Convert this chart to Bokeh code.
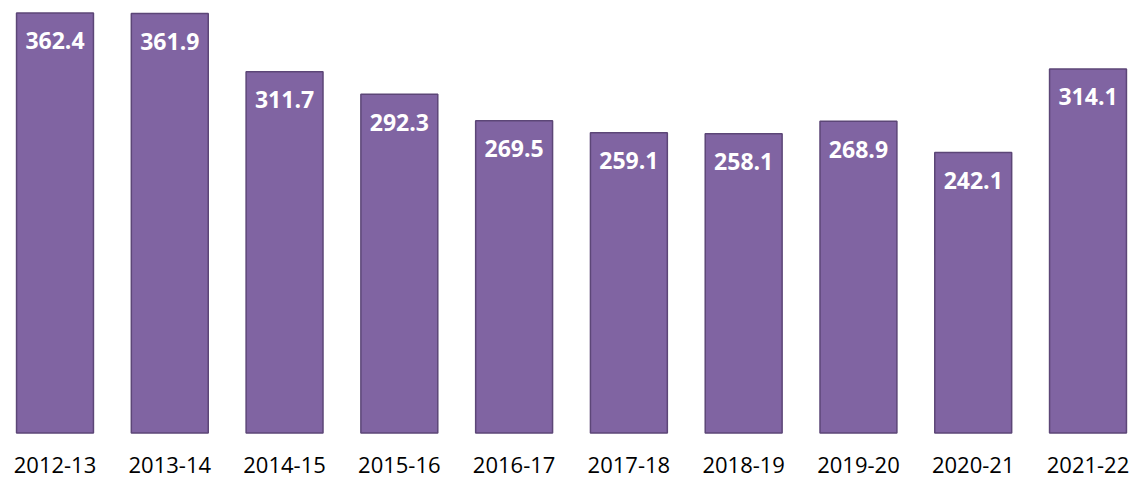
from bokeh.plotting import figure
from bokeh.models import ColumnDataSource, Range1d
from bokeh.core.properties import value
from bokeh.embed import file_html
from bokeh.resources import INLINE

years = ["2012-13", "2013-14", "2014-15", "2015-16", "2016-17",
         "2017-18", "2018-19", "2019-20", "2020-21", "2021-22"]
values = [362.4, 361.9, 311.7, 292.3, 269.5, 259.1, 258.1, 268.9, 242.1, 314.1]

xs = list(range(len(years)))
src = ColumnDataSource(dict(x=xs, top=values, label=[f"{v:.1f}" for v in values],
                            year=years))

PX = 1.159  # pixels per unit
p = figure(width=1136, height=480, output_backend="svg",
           toolbar_location=None, x_range=Range1d(-0.4748, 9.4225),
           y_range=Range1d(-47.5 / PX, 432.5 / PX), min_border=0)
p.outline_line_color = None
p.background_fill_color = "white"
p.border_fill_color = "white"
p.axis.visible = False
p.grid.visible = False

p.vbar(x="x", top="top", bottom=0, width=0.67, source=src,
       fill_color="#8064A2", line_color="#5C4677", line_width=1.5)
p.text(x="x", y="top", text="label", source=src, text_align="center",
       text_baseline="middle", y_offset=28, text_color="white",
       text_font=value("Open Sans"), text_font_style="bold",
       text_font_size="23px")
# category labels below the bars
p.text(x="x", y=-31.5 / PX, text="year", source=src, text_align="center",
       text_baseline="middle", text_color="black",
       text_font=value("Open Sans"), text_font_size="22px")

open("out.html", "w").write(file_html(p, INLINE))
